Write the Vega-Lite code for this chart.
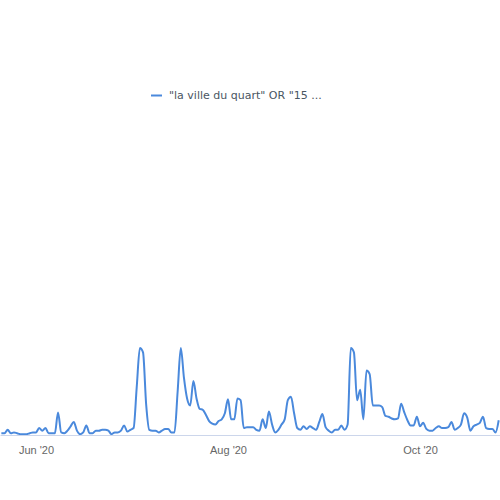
{
  "$schema": "https://vega.github.io/schema/vega-lite/v6.json",
  "width": 500,
  "height": 435,
  "autosize": {"type": "none"},
  "padding": {"left": 0, "top": 0, "right": 0, "bottom": 65},
  "background": "white",
  "config": {"view": {"stroke": null}, "font": "Liberation Sans"},
  "data": {"values": [
    {"date": "2020-05-21", "value": 2}, {"date": "2020-05-22", "value": 2}, {"date": "2020-05-23", "value": 6}, {"date": "2020-05-24", "value": 2},
    {"date": "2020-05-25", "value": 3}, {"date": "2020-05-26", "value": 2}, {"date": "2020-05-27", "value": 1}, {"date": "2020-05-28", "value": 1},
    {"date": "2020-05-29", "value": 1}, {"date": "2020-05-30", "value": 2}, {"date": "2020-05-31", "value": 3}, {"date": "2020-06-01", "value": 3},
    {"date": "2020-06-02", "value": 8}, {"date": "2020-06-03", "value": 5}, {"date": "2020-06-04", "value": 8}, {"date": "2020-06-05", "value": 2},
    {"date": "2020-06-06", "value": 2}, {"date": "2020-06-07", "value": 2}, {"date": "2020-06-08", "value": 26}, {"date": "2020-06-09", "value": 3},
    {"date": "2020-06-10", "value": 2}, {"date": "2020-06-11", "value": 5}, {"date": "2020-06-12", "value": 10}, {"date": "2020-06-13", "value": 15},
    {"date": "2020-06-14", "value": 5}, {"date": "2020-06-15", "value": 1}, {"date": "2020-06-16", "value": 3}, {"date": "2020-06-17", "value": 11},
    {"date": "2020-06-18", "value": 2}, {"date": "2020-06-19", "value": 2}, {"date": "2020-06-20", "value": 5}, {"date": "2020-06-21", "value": 5},
    {"date": "2020-06-22", "value": 6}, {"date": "2020-06-23", "value": 6}, {"date": "2020-06-24", "value": 5}, {"date": "2020-06-25", "value": 1},
    {"date": "2020-06-26", "value": 3}, {"date": "2020-06-27", "value": 3}, {"date": "2020-06-28", "value": 5}, {"date": "2020-06-29", "value": 11},
    {"date": "2020-06-30", "value": 4}, {"date": "2020-07-01", "value": 6}, {"date": "2020-07-02", "value": 8}, {"date": "2020-07-03", "value": 55},
    {"date": "2020-07-04", "value": 100}, {"date": "2020-07-05", "value": 95}, {"date": "2020-07-06", "value": 35}, {"date": "2020-07-07", "value": 6},
    {"date": "2020-07-08", "value": 5}, {"date": "2020-07-09", "value": 5}, {"date": "2020-07-10", "value": 3}, {"date": "2020-07-11", "value": 5},
    {"date": "2020-07-12", "value": 7}, {"date": "2020-07-13", "value": 7}, {"date": "2020-07-14", "value": 3}, {"date": "2020-07-15", "value": 3},
    {"date": "2020-07-16", "value": 50}, {"date": "2020-07-17", "value": 100}, {"date": "2020-07-18", "value": 66}, {"date": "2020-07-19", "value": 42},
    {"date": "2020-07-20", "value": 34}, {"date": "2020-07-21", "value": 62}, {"date": "2020-07-22", "value": 42}, {"date": "2020-07-23", "value": 30},
    {"date": "2020-07-24", "value": 29}, {"date": "2020-07-25", "value": 23}, {"date": "2020-07-26", "value": 16}, {"date": "2020-07-27", "value": 13},
    {"date": "2020-07-28", "value": 12}, {"date": "2020-07-29", "value": 16}, {"date": "2020-07-30", "value": 18}, {"date": "2020-07-31", "value": 25},
    {"date": "2020-08-01", "value": 41}, {"date": "2020-08-02", "value": 18}, {"date": "2020-08-03", "value": 18}, {"date": "2020-08-04", "value": 42},
    {"date": "2020-08-05", "value": 40}, {"date": "2020-08-06", "value": 8}, {"date": "2020-08-07", "value": 9}, {"date": "2020-08-08", "value": 9},
    {"date": "2020-08-09", "value": 9}, {"date": "2020-08-10", "value": 6}, {"date": "2020-08-11", "value": 5}, {"date": "2020-08-12", "value": 18},
    {"date": "2020-08-13", "value": 8}, {"date": "2020-08-14", "value": 27}, {"date": "2020-08-15", "value": 12}, {"date": "2020-08-16", "value": 3},
    {"date": "2020-08-17", "value": 6}, {"date": "2020-08-18", "value": 12}, {"date": "2020-08-19", "value": 18}, {"date": "2020-08-20", "value": 40},
    {"date": "2020-08-21", "value": 44}, {"date": "2020-08-22", "value": 25}, {"date": "2020-08-23", "value": 8}, {"date": "2020-08-24", "value": 6},
    {"date": "2020-08-25", "value": 10}, {"date": "2020-08-26", "value": 7}, {"date": "2020-08-27", "value": 10}, {"date": "2020-08-28", "value": 8},
    {"date": "2020-08-29", "value": 6}, {"date": "2020-08-30", "value": 15}, {"date": "2020-08-31", "value": 24}, {"date": "2020-09-01", "value": 9},
    {"date": "2020-09-02", "value": 5}, {"date": "2020-09-03", "value": 3}, {"date": "2020-09-04", "value": 6}, {"date": "2020-09-05", "value": 6},
    {"date": "2020-09-06", "value": 11}, {"date": "2020-09-07", "value": 6}, {"date": "2020-09-08", "value": 12}, {"date": "2020-09-09", "value": 100},
    {"date": "2020-09-10", "value": 95}, {"date": "2020-09-11", "value": 40}, {"date": "2020-09-12", "value": 52}, {"date": "2020-09-13", "value": 18},
    {"date": "2020-09-14", "value": 74}, {"date": "2020-09-15", "value": 70}, {"date": "2020-09-16", "value": 34}, {"date": "2020-09-17", "value": 34},
    {"date": "2020-09-18", "value": 34}, {"date": "2020-09-19", "value": 32}, {"date": "2020-09-20", "value": 22}, {"date": "2020-09-21", "value": 21},
    {"date": "2020-09-22", "value": 19}, {"date": "2020-09-23", "value": 18}, {"date": "2020-09-24", "value": 19}, {"date": "2020-09-25", "value": 36},
    {"date": "2020-09-26", "value": 26}, {"date": "2020-09-27", "value": 17}, {"date": "2020-09-28", "value": 11}, {"date": "2020-09-29", "value": 11},
    {"date": "2020-09-30", "value": 21}, {"date": "2020-10-01", "value": 10}, {"date": "2020-10-02", "value": 14}, {"date": "2020-10-03", "value": 7},
    {"date": "2020-10-04", "value": 5}, {"date": "2020-10-05", "value": 5}, {"date": "2020-10-06", "value": 8}, {"date": "2020-10-07", "value": 10},
    {"date": "2020-10-08", "value": 8}, {"date": "2020-10-09", "value": 8}, {"date": "2020-10-10", "value": 9}, {"date": "2020-10-11", "value": 15},
    {"date": "2020-10-12", "value": 6}, {"date": "2020-10-13", "value": 8}, {"date": "2020-10-14", "value": 12}, {"date": "2020-10-15", "value": 25},
    {"date": "2020-10-16", "value": 20}, {"date": "2020-10-17", "value": 5}, {"date": "2020-10-18", "value": 10}, {"date": "2020-10-19", "value": 12},
    {"date": "2020-10-20", "value": 14}, {"date": "2020-10-21", "value": 21}, {"date": "2020-10-22", "value": 8}, {"date": "2020-10-23", "value": 7},
    {"date": "2020-10-24", "value": 7}, {"date": "2020-10-25", "value": 3}, {"date": "2020-10-26", "value": 17}
  ]},
  "transform": [{"calculate": "'\"la ville du quart\" OR \"15 ...'", "as": "series"}],
  "mark": {"type": "line", "interpolate": "monotone", "strokeWidth": 2, "clip": true},
  "encoding": {
    "x": {
      "field": "date", "type": "temporal", "title": null,
      "scale": {"type": "utc", "domain": [
        {"year": 2020, "month": 5, "date": 20, "hours": 13, "minutes": 32, "utc": true},
        {"year": 2020, "month": 10, "date": 26, "hours": 9, "minutes": 50, "utc": true}
      ]},
      "axis": {
        "values": [
          {"year": 2020, "month": 6, "date": 1, "utc": true},
          {"year": 2020, "month": 8, "date": 1, "utc": true},
          {"year": 2020, "month": 10, "date": 1, "utc": true}
        ],
        "format": "%b '%y",
        "grid": false, "ticks": false,
        "domainColor": "#ccd6eb", "domainWidth": 1,
        "labelColor": "#666666", "labelFontSize": 11, "labelPadding": 9,
        "labelFont": "Liberation Sans"
      }
    },
    "y": {"field": "value", "type": "quantitative", "axis": null, "scale": {"domain": [0, 500]}},
    "color": {
      "field": "series", "type": "nominal", "scale": {"range": ["#4a89dc"]},
      "legend": {
        "title": null, "orient": "none", "legendX": 150, "legendY": 89,
        "symbolType": "stroke", "symbolStrokeWidth": 2, "symbolSize": 120,
        "labelFont": "DejaVu Sans", "labelFontSize": 11, "labelColor": "#4a5662",
        "padding": 0, "labelOffset": 6
      }
    }
  }
}
